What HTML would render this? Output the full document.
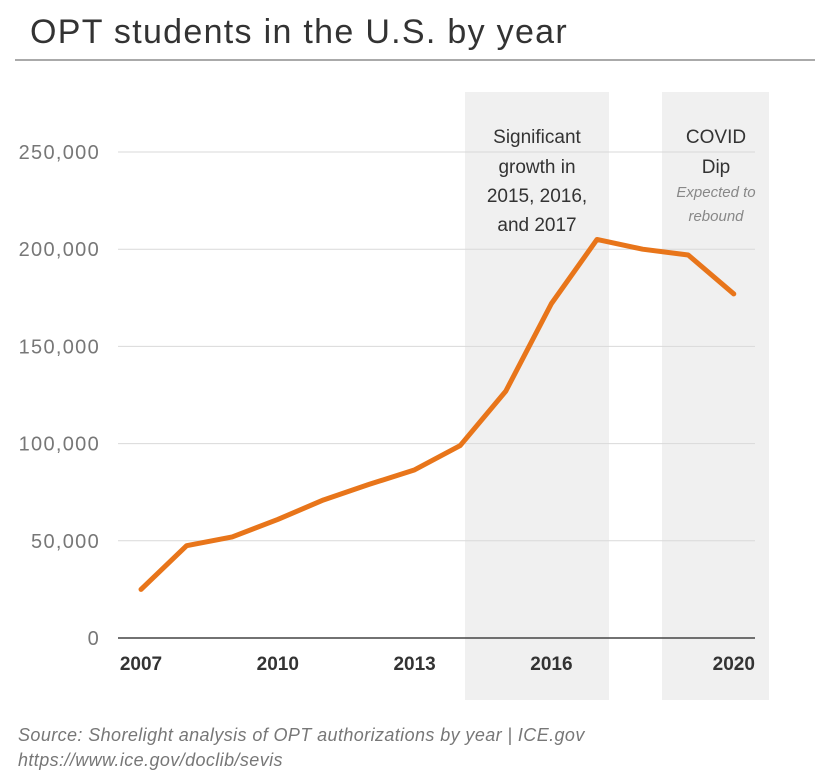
<!DOCTYPE html>
<html><head><meta charset="utf-8"><style>
body{margin:0;background:#fff;width:816px;height:775px;overflow:hidden;font-family:"Liberation Sans",sans-serif}
</style></head><body>
<svg width="816" height="775">
<text x="30" y="43" font-size="34" fill="#333" letter-spacing="1.3">OPT students in the U.S. by year</text>
<line x1="15" y1="60" x2="815" y2="60" stroke="#555" stroke-width="1"/>
<rect x="465" y="92" width="144" height="608" fill="#f0f0f0"/>
<rect x="662" y="92" width="107" height="608" fill="#f0f0f0"/>
<g id="grid"></g>
<g id="ylab"></g>
<g id="xlab"></g>
<path id="line" fill="none" stroke="#e8751a" stroke-width="5" stroke-linejoin="round" stroke-linecap="round"/>
<g font-size="19" fill="#333" text-anchor="middle">
<text x="537" y="143">Significant</text><text x="537" y="173">growth in</text><text x="537" y="202">2015, 2016,</text><text x="537" y="231">and 2017</text></g>
<g text-anchor="middle">
<text x="716" y="143" font-size="19" fill="#333">COVID</text><text x="716" y="173" font-size="19" fill="#333">Dip</text>
<text x="716" y="197" font-size="15" font-style="italic" fill="#888">Expected to</text><text x="716" y="221" font-size="15" font-style="italic" fill="#888">rebound</text></g>
<g font-size="18" font-style="italic" fill="#777" letter-spacing="0.4">
<text x="18" y="741">Source: Shorelight analysis of OPT authorizations by year | ICE.gov</text>
<text x="18" y="766">https://www.ice.gov/doclib/sevis</text></g>
</svg>
<script>
const years=[2007,2008,2009,2010,2011,2012,2013,2014,2015,2016,2017,2018,2019,2020];
const values=[25000,47500,52000,61000,71000,79000,86500,99000,127000,172000,205000,200000,197000,177000];
const yTicks=[0,50000,100000,150000,200000,250000];
const yTickLabels=["0","50,000","100,000","150,000","200,000","250,000"];
const xTicks=[2007,2010,2013,2016,2020];
const NS="http://www.w3.org/2000/svg";
const x=v=>141+(v-2007)*45.6;
const y=v=>638-v/250000*486;
const grid=document.getElementById('grid'),yl=document.getElementById('ylab'),xl=document.getElementById('xlab');
yTicks.forEach((t,i)=>{
 const l=document.createElementNS(NS,'line');
 l.setAttribute('x1',118);l.setAttribute('x2',755);l.setAttribute('y1',y(t));l.setAttribute('y2',y(t));
 l.setAttribute('stroke',t===0?'#444':'#d9d9d9');l.setAttribute('stroke-width',t===0?1.5:1);
 
 
 grid.appendChild(l);
 const tx=document.createElementNS(NS,'text');
 tx.setAttribute('x',100);tx.setAttribute('y',y(t)+7);tx.setAttribute('text-anchor','end');
 tx.setAttribute('font-size','20');tx.setAttribute('letter-spacing','1.3');tx.setAttribute('fill','#777');tx.textContent=yTickLabels[i];
 
 
 yl.appendChild(tx);
});
xTicks.forEach(t=>{
 const tx=document.createElementNS(NS,'text');
 tx.setAttribute('x',x(t));tx.setAttribute('y',670);tx.setAttribute('text-anchor','middle');
 tx.setAttribute('font-size','19');tx.setAttribute('font-weight','bold');tx.setAttribute('fill','#333');tx.textContent=t;
 
 
 xl.appendChild(tx);
});
document.getElementById('line').setAttribute('d',years.map((yr,i)=>(i?'L':'M')+x(yr)+' '+y(values[i])).join(' '));
</script>
</body></html>
